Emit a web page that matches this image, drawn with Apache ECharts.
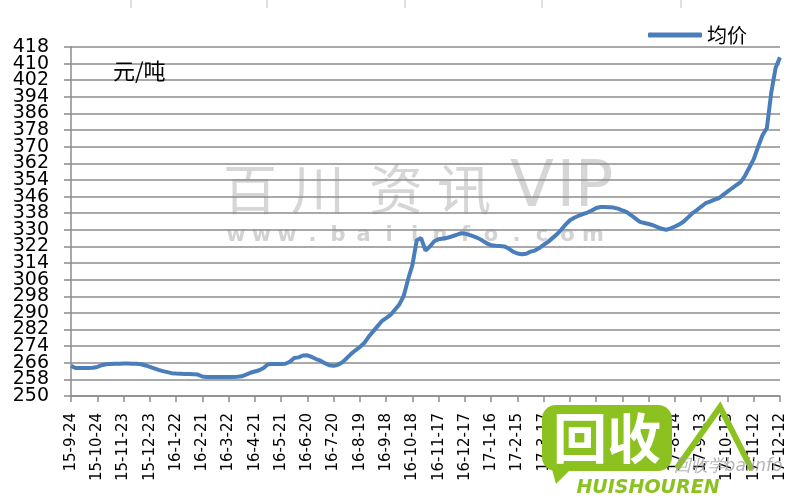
<!DOCTYPE html>
<html>
<head>
<meta charset="utf-8">
<script src="https://cdn.jsdelivr.net/npm/echarts@6/dist/echarts.min.js"></script>
<style>html,body{margin:0;padding:0;background:#fff}#c{width:800px;height:500px}</style>
</head>
<body>
<div id="c"></div>
<script>
// Series: average price (元/吨), one reading every 5 days from 2015-09-24 to 2017-12-12
var seriesName = '均价';
var unitLabel = '元/吨';
var startDate = [2015, 9, 24];
var stepDays = 5;
var avgPrice = [
 264.5,263.5,263.5,263.5,263.5,263.6,264,264.8,265.3,265.4,
 265.5,265.5,265.6,265.6,265.5,265.5,265.3,264.7,264,263.3,
 262.6,262,261.5,261,260.8,260.7,260.6,260.6,260.5,260.3,
 259.4,259.2,259.2,259.1,259.1,259.1,259.1,259.2,259.3,259.5,
 260.3,261.2,261.8,262.4,263.5,265.3,265.4,265.4,265.4,265.5,
 266.5,268.3,268.6,269.5,269.6,268.8,267.8,267,265.8,264.8,
 264.5,265,266.2,268.2,270.3,272,273.6,275.5,278.5,281,
 283.5,286,287.5,289,291.5,294,298,306,313,325,
 326,320,322,324.5,325.5,325.8,326.2,326.8,327.5,328.3,
 328.2,327.6,326.8,326,324.8,323.5,322.6,322.3,322.2,322,
 321,319.5,318.6,318.2,318.5,319.5,320,321.2,322.8,324.2,
 326,327.8,330,332.5,334.6,335.8,336.8,337.6,338.3,339.3,
 340.5,341,341,340.9,340.7,340.2,339.3,338.5,337,335.4,
 333.8,333.3,332.8,332.2,331.3,330.5,330,330.7,331.6,332.6,
 334,336,338,339.5,341.2,342.8,343.6,344.5,345.2,346.8,
 348.4,350,351.5,353,356,360,364,370,375.5,379,
 396,408,413
];
var yMin = 250, yMax = 418, yStep = 8;
var yTickLabels = [];
for (var t = yMin; t <= yMax; t += yStep) yTickLabels.push(t);

// category labels (YY-M-D)
var categories = [];
(function(){
  var t0 = Date.UTC(startDate[0], startDate[1]-1, startDate[2]);
  for (var i = 0; i < avgPrice.length; i++) {
    var d = new Date(t0 + i*stepDays*86400000);
    categories.push((d.getUTCFullYear()%100) + '-' + (d.getUTCMonth()+1) + '-' + d.getUTCDate());
  }
})();
var labelEvery = 30 / stepDays; // a label every 30 days

var chart = echarts.init(document.getElementById('c'));
var lineColor = '#4a7ebb';
var gridColor = '#8c8c8c';
var green = '#8cc21f';

// watermark chars
var wm1 = ['百','川','资','讯'];
var wm1x = [250, 318, 396, 464];
var wm1b = ['V','I','P'];
var wm1bx = [532, 566, 594];
var wm2 = 'www.baiinfo.com'.split('');
var graphics = [];
wm1.forEach(function(ch, i){
  graphics.push({type:'text', z:0, x: wm1x[i], y: 189, style:{text: ch, fill:'#d6d6d6', font:'54px "Noto Sans CJK SC"', textAlign:'center', textVerticalAlign:'middle'}});
});
wm1b.forEach(function(ch, i){
  graphics.push({type:'text', z:0, x: wm1bx[i], y: 189, style:{text: ch, fill:'#d6d6d6', font:'64px "DejaVu Sans"', textAlign:'center', textVerticalAlign:'middle'}});
});
wm2.forEach(function(ch, i){
  graphics.push({type:'text', z:0, x: 236 + i*25.5, y: 236, style:{text: ch, fill:'#d2d2d2', font:'bold 21px "DejaVu Sans"', textAlign:'center', textVerticalAlign:'middle'}});
});
// top stray ticks
[131, 267, 405, 542, 681].forEach(function(x){
  graphics.push({type:'line', shape:{x1:x, y1:0, x2:x, y2:8}, style:{stroke:'#c0c0c0', lineWidth:1}});
});
// logo
graphics.push({type:'rect', z:100, shape:{x:542, y:405, width:130, height:66, r:14}, style:{fill:green}});
graphics.push({type:'polygon', z:100, shape:{points:[[550,462],[572,468],[556,484]]}, style:{fill:green}});
graphics.push({type:'text', z:101, x:607, y:438, style:{text:'回收', fill:'#fff', font:'bold 54px "Noto Sans CJK SC"', textAlign:'center', textVerticalAlign:'middle'}});
graphics.push({type:'text', z:101, x:648, y:488, style:{text:'HUISHOUREN', fill:green, font:'italic bold 19px "DejaVu Sans"', textAlign:'center', textVerticalAlign:'middle'}});
graphics.push({type:'polyline', z:101, shape:{points:[[677,468],[720,407],[752,470]]}, style:{stroke:green, lineWidth:6, fill:null}});
graphics.push({type:'text', z:101, x:728, y:467, style:{text:'回收学baiinfo', fill:'#a0a0a0', font:'italic 17px "DejaVu Sans"', textAlign:'center', textVerticalAlign:'middle', opacity:0.8}});
graphics.push({type:'text', z:50, left:113, top:60, style:{text: unitLabel, fill:'#000', font:'22px "Noto Sans CJK SC"'}});

chart.setOption({
  animation: false,
  backgroundColor: '#fff',
  grid: {left: 71, right: 20, top: 47, bottom: 104, containLabel: false},
  legend: {
    right: 48, top: 20,
    itemWidth: 54, itemHeight: 5, itemGap: 6,
    icon: 'roundRect',
    textStyle: {fontSize: 20, color: '#000', fontFamily: 'Noto Sans CJK SC'},
    data: [{name: seriesName, itemStyle:{color: lineColor}}]
  },
  xAxis: {
    type: 'category',
    data: categories,
    boundaryGap: false,
    axisLine: {lineStyle: {color: gridColor, width: 1.5}},
    axisTick: {interval: labelEvery - 1, length: 6, lineStyle: {color: gridColor, width: 1.5}},
    axisLabel: {interval: labelEvery - 1, rotate: 90, margin: 17, color: '#000', fontSize: 15, fontFamily: 'DejaVu Sans'},
    splitLine: {show: false}
  },
  yAxis: {
    type: 'value',
    min: 0, max: yMax - yMin, interval: yStep,
    axisLine: {show: true, lineStyle: {color: gridColor, width: 1.5}},
    axisTick: {show: true, length: 7, lineStyle: {color: gridColor, width: 1.5}},
    axisLabel: {show: false},
    splitLine: {lineStyle: {color: gridColor, width: 1.5}}
  },
  series: [{
    name: seriesName,
    type: 'line',
    data: avgPrice.map(function(v){ return +(v - yMin).toFixed(2); }),
    showSymbol: false,
    symbol: 'none',
    lineStyle: {color: lineColor, width: 4},
    itemStyle: {color: lineColor},
    z: 3
  }],
  graphic: graphics
});

// y-axis tick labels placed through the axis scale (all of them, none hidden)
var axisX = chart.convertToPixel({xAxisIndex: 0}, 0);
yTickLabels.forEach(function(lbl){
  var py = chart.convertToPixel({yAxisIndex: 0}, lbl - yMin);
  graphics.push({type:'text', z:50, x: axisX - 22, y: py, style:{text: String(lbl), fill:'#000', font:'19px "DejaVu Sans"', textAlign:'right', textVerticalAlign:'middle'}});
});
chart.setOption({graphic: graphics});
</script>
</body>
</html>
